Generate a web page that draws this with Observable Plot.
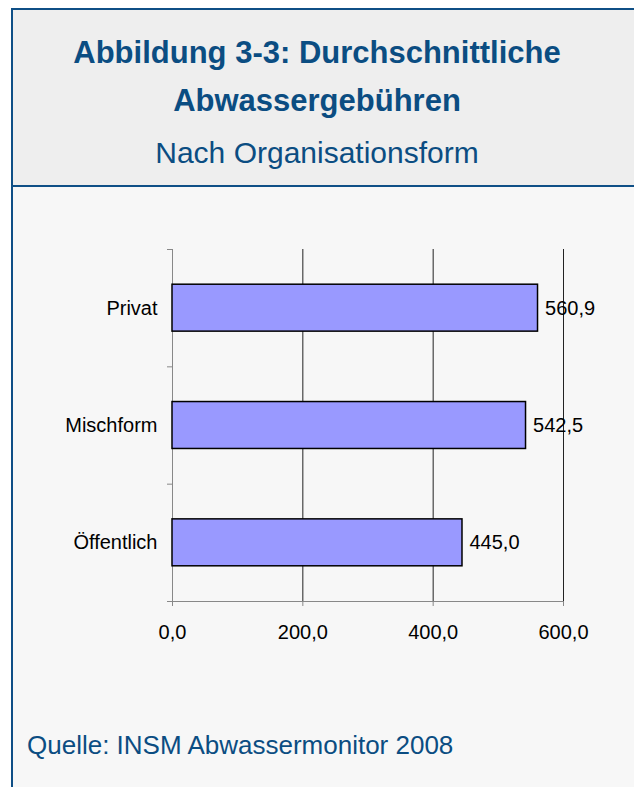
<!DOCTYPE html>
<html>
<head>
<meta charset="utf-8">
<script src="https://cdn.jsdelivr.net/npm/d3@7"></script>
<script src="https://cdn.jsdelivr.net/npm/@observablehq/plot@0.6"></script>
<style>
  html, body { margin: 0; padding: 0; background: #ffffff; }
  #wrap { position: relative; width: 634px; height: 787px; overflow: hidden; background: #ffffff;
          font-family: "Liberation Sans", Arial, sans-serif; }
  #frame { position: absolute; left: 11px; top: 8px; width: 700px; height: 800px;
           border-left: 2px solid #0f4f86; border-top: 2px solid #0f4f86; background: #f7f7f7; }
  #header { position: absolute; left: 13px; top: 10px; width: 700px; height: 175px;
            background: #eeeeee; border-bottom: 2px solid #0f4f86; }
  .t { position: absolute; left: 0; width: 634px; text-align: center; color: #0b4d82; line-height: 1; white-space: nowrap; }
  .title { font-weight: bold; font-size: 31px; }
  .sub { font-size: 30px; }
  #source { position: absolute; left: 27px; top: 732px; font-size: 26px; line-height: 1; color: #0b4d82; white-space: nowrap; }
  #chart { position: absolute; left: 0; top: 190px; }
</style>
</head>
<body>
<div id="wrap">
  <div id="frame"></div>
  <div id="header"></div>
  <div class="t title" style="top:37px">Abbildung 3-3: Durchschnittliche</div>
  <div class="t title" style="top:85px">Abwassergebühren</div>
  <div class="t sub" style="top:138px">Nach Organisationsform</div>
  <div id="chart"></div>
  <div id="source">Quelle: INSM Abwassermonitor 2008</div>
</div>
<script>
const categories = ["Privat", "Mischform", "Öffentlich"];
const values = [560.9, 542.5, 445.0];
const xTicks = [0, 200, 400, 600];

const data = categories.map((c, i) => ({cat: c, value: values[i], pos: i}));
const fmt = v => d3.format(".1f")(v).replace(".", ",");

const chart = Plot.plot({
  width: 634,
  height: 470,
  marginLeft: 172,
  marginRight: 71,
  marginTop: 59,
  marginBottom: 59,
  style: {background: "transparent", fontFamily: "'Liberation Sans', Arial, sans-serif", fontSize: "20px", color: "#000"},
  x: {domain: [0, 600], label: null},
  y: {domain: [categories.length, 0], axis: null, label: null},
  marks: [
    Plot.gridX({ticks: xTicks.slice(1), stroke: "#222", strokeOpacity: 1, strokeWidth: 1}),
    Plot.ruleY([categories.length], {stroke: "#888", strokeWidth: 1}),
    Plot.ruleX([0], {stroke: "#888", strokeWidth: 1}),
    Plot.axisY({ticks: d3.range(categories.length + 1), tickSize: 5, tickFormat: () => "", stroke: "#888", label: null}),
    Plot.axisX({ticks: xTicks, tickSize: 5, tickPadding: 18, tickFormat: fmt, stroke: "#888", fill: "#000", fontSize: 20, label: null}),
    Plot.rectX(data, {x1: 0, x2: "value", y1: d => d.pos + 0.3, y2: d => d.pos + 0.7,
                      fill: "#9999ff", stroke: "#000", strokeWidth: 1.5}),
    Plot.text(data, {x: 0, y: d => d.pos + 0.5, text: "cat", textAnchor: "end", dx: -15, fontSize: 20, fill: "#000"}),
    Plot.text(data, {x: "value", y: d => d.pos + 0.5, text: d => fmt(d.value), textAnchor: "start", dx: 7, fontSize: 20, fill: "#000"})
  ]
});
document.getElementById("chart").appendChild(chart);
</script>
</body>
</html>
